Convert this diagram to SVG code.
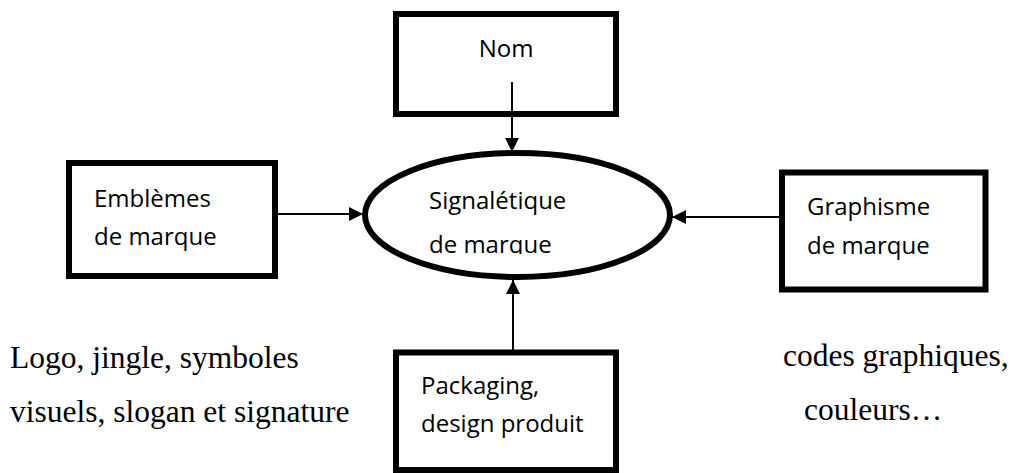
<svg xmlns="http://www.w3.org/2000/svg" width="1012" height="473" viewBox="0 0 1012 473">
<style>
.box{fill:#fff;stroke:#000;stroke-width:6}
.ell{fill:#fff;stroke:#000;stroke-width:6}
.lbl{font-family:"Open Sans","Noto Sans",sans-serif;font-size:24px;fill:#000}
.ann{font-family:"Liberation Serif","Times New Roman",serif;font-size:31.5px;fill:#000}
.conn{stroke:#000;stroke-width:2;fill:none}
</style>
<defs>
<marker id="ah" viewBox="0 0 14 14" refX="14" refY="7" markerWidth="14" markerHeight="14" markerUnits="userSpaceOnUse" orient="auto">
<path d="M0,0 L14,7 L0,14 Z" fill="#000"/>
</marker>
<clipPath id="ec"><rect x="380" y="150" width="280" height="104"/></clipPath>
</defs>
<rect width="1012" height="473" fill="#fff"/>
<g id="node-nom">
<rect class="box" x="396" y="14" width="220" height="100"/>
<text class="lbl" x="506" y="57" text-anchor="middle">Nom</text>
</g>
<g id="node-signaletique">
<ellipse class="ell" cx="517.5" cy="215" rx="152.5" ry="62"/>
<text class="lbl" x="429" y="209">Signalétique</text>
<text class="lbl" x="429" y="253" clip-path="url(#ec)">de marque</text>
</g>
<g id="node-emblemes">
<rect class="box" x="69" y="163" width="206" height="113"/>
<text class="lbl" x="94" y="207">Emblèmes</text>
<text class="lbl" x="94" y="245">de marque</text>
</g>
<g id="node-graphisme">
<rect class="box" x="782" y="172.5" width="203.5" height="117"/>
<text class="lbl" x="807" y="215">Graphisme</text>
<text class="lbl" x="807" y="254">de marque</text>
</g>
<g id="node-packaging">
<rect class="box" x="396" y="352.5" width="220" height="117.5"/>
<text class="lbl" x="421" y="394">Packaging,</text>
<text class="lbl" x="421" y="432">design produit</text>
</g>
<g id="connectors">
<line class="conn" x1="512" y1="82" x2="512" y2="152" marker-end="url(#ah)"/>
<line class="conn" x1="278" y1="214" x2="363" y2="214" marker-end="url(#ah)"/>
<line class="conn" x1="779" y1="217" x2="672" y2="217" marker-end="url(#ah)"/>
<line class="conn" x1="513" y1="350" x2="513" y2="280" marker-end="url(#ah)"/>
</g>
<g id="annotations">
<text class="ann" x="10" y="368">Logo, jingle, symboles</text>
<text class="ann" x="10" y="422">visuels, slogan et signature</text>
<text class="ann" x="783" y="366">codes graphiques,</text>
<text class="ann" x="804" y="420">couleurs…</text>
</g>
</svg>
